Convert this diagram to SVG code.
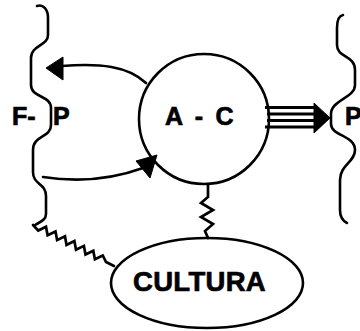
<svg xmlns="http://www.w3.org/2000/svg" width="360" height="331" viewBox="0 0 360 331">
<style>
.ln{fill:none;stroke:#000;stroke-width:2.6;stroke-linecap:round;stroke-linejoin:round}
.bar{fill:none;stroke:#000;stroke-width:3;stroke-linecap:butt}
.zz{fill:none;stroke:#000;stroke-width:2.7;stroke-linecap:round;stroke-linejoin:miter}
.hd{fill:#000;stroke:#000;stroke-width:1;stroke-linejoin:round}
.t{font-family:"Liberation Sans",Arial,sans-serif;font-weight:bold;fill:#000;stroke:#000;stroke-width:0.7}
</style>
<rect width="360" height="331" fill="#fff"/>
<g id="fp">
<path class="ln" d="M37,6 C43,4 48,9 48,18 L48,35 C48,46 31,45 31,58 L31,85 C31,98 51,95 51,108 L51,125 C51,138 33,135 33,150 L33,172 C33,185 46,183 46,196 L46,214 C46,220 40,222 35,225"/>
<text class="t" x="12" y="125" font-size="25">F-<tspan x="53">P</tspan></text>
</g>
<g id="ac">
<circle class="ln" cx="204" cy="119" r="65"/>
<text class="t" x="165" y="125" font-size="25" letter-spacing="2.8">A - C</text>
</g>
<g id="p">
<path class="ln" d="M343,15 C338,16 337,21 337,28 L337,45 C337,58 355,55 355,70 L355,85 C355,98 331,100 331,114 L331,124 C331,136 355,135 355,150 C355,162 340,165 340,180 L340,210 C340,217 343,221 347,223"/>
<text class="t" x="345" y="125" font-size="25">P</text>
</g>
<g id="cultura">
<ellipse class="ln" cx="207" cy="283" rx="96" ry="45"/>
<text class="t" x="133" y="291" font-size="27.5" letter-spacing="0.3">CULTURA</text>
</g>
<g id="connectors">
<path class="ln" d="M146,83 C128,66 100,63 62,66"/>
<polygon class="hd" points="46,68 63,57 63,80"/>
<path class="ln" d="M43,177 C75,182 110,180 143,168"/>
<polygon class="hd" points="157,155 136,161 150,178"/>
<g class="bar">
<line x1="265" y1="107.5" x2="316" y2="107.5"/>
<line x1="267" y1="114" x2="316" y2="114"/>
<line x1="267" y1="120.5" x2="316" y2="120.5"/>
<line x1="265" y1="127" x2="316" y2="127"/>
</g>
<polygon class="hd" points="314,103 330,118 314,133"/>
<path class="zz" d="M208,184 L208,197 L201,203 L213,210 L201,217 L213,224 L205,231 L208,238"/>
<path class="zz" d="M33,225 L38.2,230.5 L46,226.7 L47.6,235.3 L55.5,231.5 L57.1,240.1 L65,236.3 L66.5,244.9 L74.4,241.1 L76,249.7 L83.9,245.9 L85.5,254.5 L93.3,250.7 L94.9,259.3 L102.8,255.5 L106,262 L114,266"/>
</g>
</svg>
